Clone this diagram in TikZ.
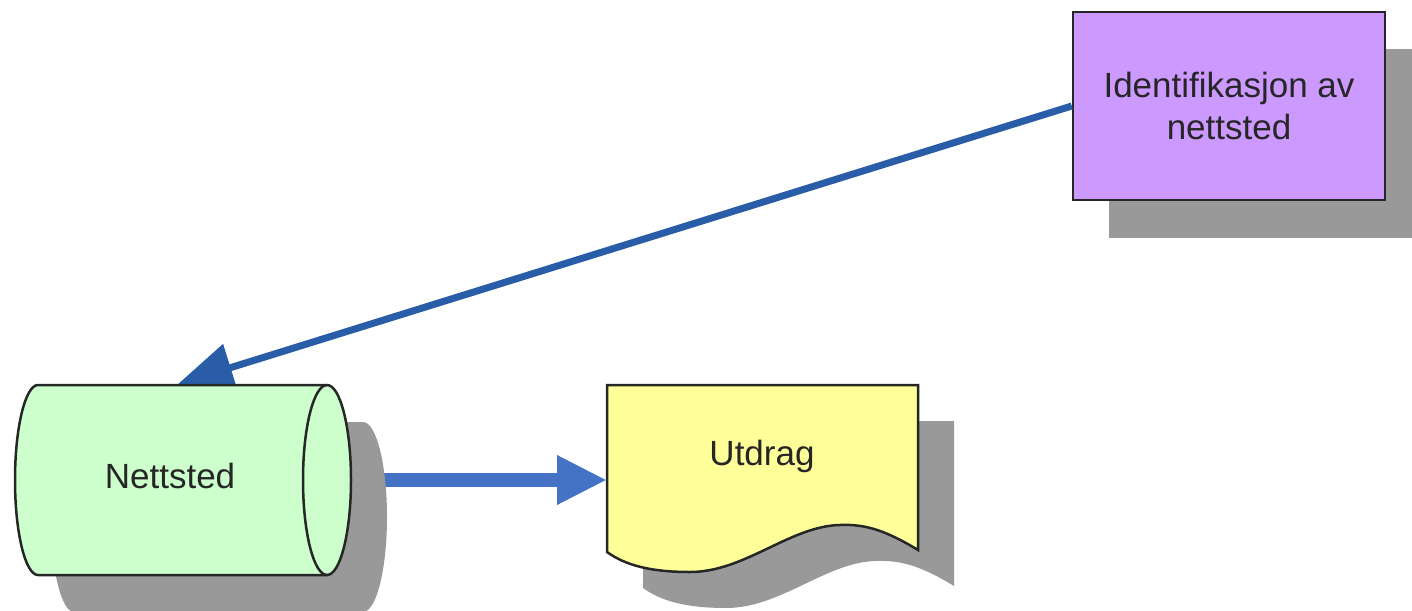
\documentclass[tikz,border=0pt]{standalone}
\usepackage{fontspec}
\setmainfont{Liberation Sans}
\usetikzlibrary{arrows.meta}

\definecolor{boxpurple}{HTML}{CC99FF}
\definecolor{boxgreen}{HTML}{CCFFCC}
\definecolor{boxyellow}{HTML}{FFFF99}
\definecolor{shadowgray}{HTML}{999999}
\definecolor{darkarrow}{HTML}{2A5DA8}
\definecolor{lightarrow}{HTML}{4472C4}

\begin{document}
\begin{tikzpicture}[x=1pt,y=-1pt,
	outline/.style={draw=black!85,line width=2.5pt},
	shade/.style={fill=shadowgray},
	txt/.style={font=\fontsize{35}{42}\selectfont,text=black!85,align=center}]
	\useasboundingbox (0,0) rectangle (1412,610);
	\clip (0,0) rectangle (1412,610);
	
	\coordinate (nettsted-top) at (178,384);
	\coordinate (nettsted-out) at (350,480);
	\coordinate (utdrag-in) at (607,480);
	
	% identifikasjon
	\fill[shade] (1109,49) rectangle (1421,238);
	\node[outline,fill=boxpurple,minimum width=312pt,minimum height=188pt,inner sep=0pt,txt]
		(ident) at (1229,106) {Identifikasjon av\\nettsted};
	
	% piler
	\draw[darkarrow,line width=7pt,-{Triangle[length=55pt,width=48pt]}] (ident.west)--(nettsted-top);
	\draw[lightarrow,line width=14pt,-{Triangle[length=50pt,width=46pt]}] (nettsted-out)--(utdrag-in);
	
	% skygger
	\fill[shade,shift={(36,37)}] (38,385) arc (270:90:23 and 95)--(327,575) arc (90:-90:24 and 95)--cycle;
	\fill[shade,shift={(36,36)}] (607,385)--(918,385)--(918,550)
		.. controls (885,530) and (865,524) .. (840,525)
		.. controls (790,526) and (745,572) .. (690,572)
		.. controls (650,572) and (625,565) .. (607,552)--cycle;
	
	% nettsted
	\filldraw[outline,fill=boxgreen] (38,385) arc (270:90:23 and 95)--(327,575) arc (90:-90:24 and 95)--cycle;
	\draw[outline] (327,385) arc (270:90:24 and 95);
	\node[txt] (nettsted) at (170,476) {Nettsted};
	
	% utdrag
	\filldraw[outline,fill=boxyellow] (607,385)--(918,385)--(918,550)
		.. controls (885,530) and (865,524) .. (840,525)
		.. controls (790,526) and (745,572) .. (690,572)
		.. controls (650,572) and (625,565) .. (607,552)--cycle;
	\node[txt] (utdrag) at (762,456) {Utdrag};
	
\end{tikzpicture}
\end{document}
